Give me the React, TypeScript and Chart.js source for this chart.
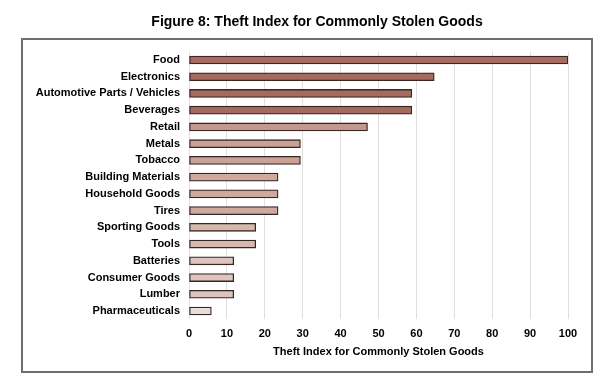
import React, { useEffect, useRef } from "react";
import { Chart, registerables } from "chart.js";

Chart.register(...registerables);

const TITLE = "Figure 8: Theft Index for Commonly Stolen Goods";
const AXIS_TITLE = "Theft Index for Commonly Stolen Goods";

const categories = [
  "Food",
  "Electronics",
  "Automotive Parts / Vehicles",
  "Beverages",
  "Retail",
  "Metals",
  "Tobacco",
  "Building Materials",
  "Household Goods",
  "Tires",
  "Sporting Goods",
  "Tools",
  "Batteries",
  "Consumer Goods",
  "Lumber",
  "Pharmaceuticals",
];

const values = [100, 64.7, 58.8, 58.8, 47.1, 29.4, 29.4, 23.5, 23.5, 23.5, 17.6, 17.6, 11.8, 11.8, 11.8, 5.9];

const barColors = [
  "#a56b5e",
  "#a56b5e",
  "#a56b5e",
  "#a56b5e",
  "#c4988c",
  "#c9a195",
  "#c9a195",
  "#cda99e",
  "#cda99e",
  "#cda99e",
  "#d5b8ae",
  "#d5b8ae",
  "#dcc5be",
  "#dcc5be",
  "#dcc5be",
  "#e9ddd9",
];

const xTicks = [0, 10, 20, 30, 40, 50, 60, 70, 80, 90, 100];

const FONT = "'Liberation Sans', Arial, sans-serif";

const framePlugin = {
  id: "frameAndTitle",
  beforeDraw(chart: any) {
    const ctx = chart.ctx;
    ctx.save();
    ctx.fillStyle = "#ffffff";
    ctx.fillRect(0, 0, chart.width, chart.height);
    ctx.restore();
  },
  afterDraw(chart: any) {
    const ctx = chart.ctx;
    ctx.save();
    ctx.strokeStyle = "#6e6e6e";
    ctx.lineWidth = 2;
    ctx.strokeRect(22, 39, 570, 333);
    ctx.fillStyle = "#000";
    ctx.font = `bold 14px ${FONT}`;
    ctx.textAlign = "center";
    ctx.textBaseline = "middle";
    ctx.fillText(TITLE, 317, 22);
    ctx.restore();
  },
};

export default function App() {
  const ref = useRef<HTMLCanvasElement | null>(null);

  useEffect(() => {
    if (!ref.current) return;
    const chart = new Chart(ref.current, {
      type: "bar",
      data: {
        labels: categories,
        datasets: [
          {
            data: values,
            backgroundColor: barColors,
            borderColor: "#3a2622",
            borderWidth: 1.3,
            borderSkipped: false,
            barThickness: 8,
          },
        ],
      },
      options: {
        indexAxis: "y",
        responsive: false,
        animation: false,
        layout: {
          padding: { left: 10, right: 47, top: 51.6, bottom: 30.6 },
        },
        plugins: {
          legend: { display: false },
          title: { display: false },
          tooltip: { enabled: false },
        },
        scales: {
          x: {
            min: 0,
            max: 100,
            afterFit: (s: any) => {
              s.height = 42;
            },
            afterBuildTicks: (s: any) => {
              s.ticks = xTicks.map((v) => ({ value: v }));
            },
            grid: { color: "#e0e0e0", lineWidth: 1, drawTicks: false },
            border: { display: false },
            ticks: {
              padding: 8,
              color: "#000",
              font: { family: FONT, size: 11, weight: "bold" },
            },
            title: {
              display: true,
              text: AXIS_TITLE,
              color: "#000",
              font: { family: FONT, size: 11, weight: "bold" },
              padding: { top: 4, bottom: 3 },
            },
          },
          y: {
            afterFit: (s: any) => {
              s.width = 179;
            },
            grid: { display: false, drawTicks: false },
            border: { display: false },
            ticks: {
              padding: 9,
              color: "#000",
              autoSkip: false,
              font: { family: FONT, size: 11, weight: "bold" },
            },
          },
        },
      },
      plugins: [framePlugin],
    } as any);
    return () => chart.destroy();
  }, []);

  return (
    <div style={{ position: "fixed", left: 0, top: 0, width: 615, height: 392, background: "#fff" }}>
      <canvas ref={ref} width={615} height={392} style={{ display: "block" }} />
    </div>
  );
}
